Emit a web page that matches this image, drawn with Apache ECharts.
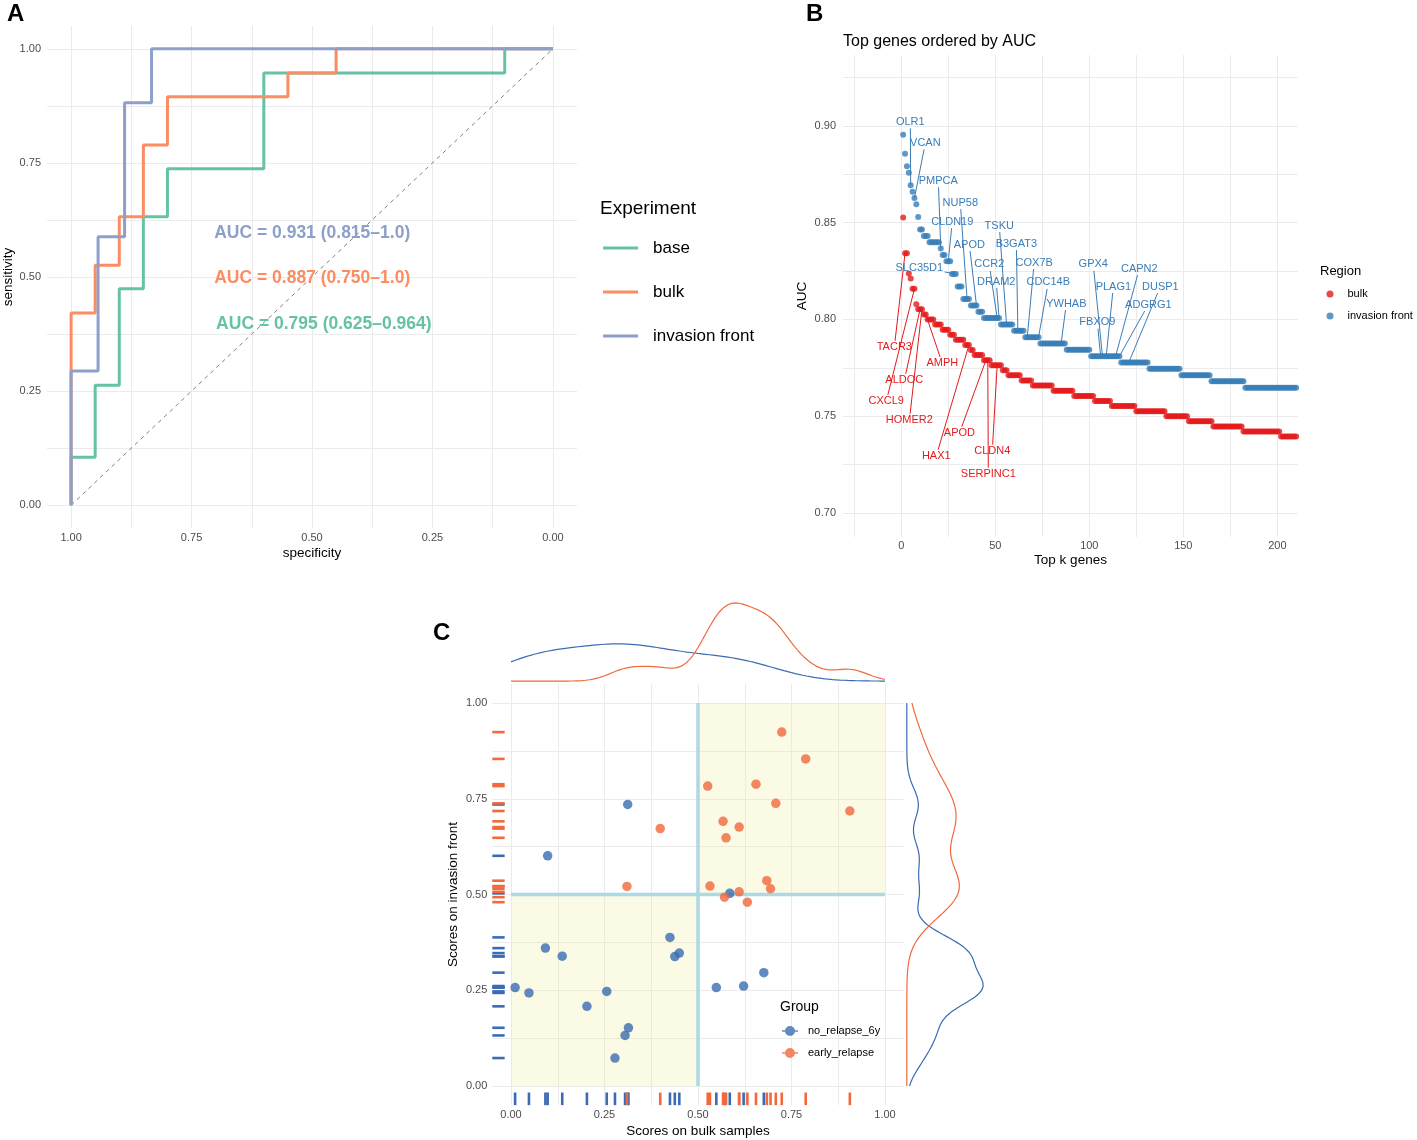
<!DOCTYPE html>
<html><head><meta charset="utf-8">
<script src="https://cdn.jsdelivr.net/npm/echarts@6/dist/echarts.min.js"></script>
<style>html,body{margin:0;padding:0;background:#fff}#chart{width:1417px;height:1140px}</style>
</head><body><div id="chart"></div>
<script>
// ---------------- Panel A : ROC curves ----------------
const experiments = ['base', 'bulk', 'invasion front'];
const rocBaseSpec = [1, 1, 0.95, 0.95, 0.9, 0.9, 0.85, 0.85, 0.8, 0.8, 0.6, 0.6, 0.1, 0.1, 0];
const rocBaseSens = [0, 0.105, 0.105, 0.263, 0.263, 0.474, 0.474, 0.632, 0.632, 0.737, 0.737, 0.947, 0.947, 1, 1];
const rocBulkSpec = [1, 1, 0.95, 0.95, 0.9, 0.9, 0.85, 0.85, 0.8, 0.8, 0.55, 0.55, 0.45, 0.45, 0];
const rocBulkSens = [0, 0.421, 0.421, 0.526, 0.526, 0.632, 0.632, 0.789, 0.789, 0.895, 0.895, 0.947, 0.947, 1, 1];
const rocInvSpec = [1, 1, 0.944, 0.944, 0.889, 0.889, 0.833, 0.833, 0];
const rocInvSens = [0, 0.294, 0.294, 0.588, 0.588, 0.882, 0.882, 1, 1];
const chanceSpec = [1, 0];
const chanceSens = [0, 1];
const aucTexts = ['AUC = 0.931 (0.815\u20131.0)', 'AUC = 0.887 (0.750\u20131.0)', 'AUC = 0.795 (0.625\u20130.964)'];
const aucTextSpec = [0.703, 0.703, 0.699];
const aucTextSens = [0.597, 0.498, 0.397];
const rocTicks = [0, 0.25, 0.5, 0.75, 1];

// ---------------- Panel B : top genes by AUC ----------------
// runs: [AUC, first rank, last rank]
const bulkAucRuns = [[0.8526,1,1],[0.8342,2,3],[0.8237,4,4],[0.8211,5,5],[0.8158,6,7],[0.8079,8,8],[0.8053,9,11],[0.8026,12,13],[0.8,14,17],[0.7974,18,21],[0.7947,22,25],[0.7921,26,28],[0.7895,29,33],[0.7868,34,36],[0.7842,37,38],[0.7816,39,43],[0.7789,44,47],[0.7763,48,53],[0.7737,54,56],[0.7711,57,63],[0.7684,64,69],[0.7658,70,80],[0.7632,81,91],[0.7605,92,102],[0.7579,103,111],[0.7553,112,124],[0.7526,125,140],[0.75,141,152],[0.7474,153,165],[0.7447,166,181],[0.7421,182,201],[0.7395,202,210]];
const frontAucRuns = [[0.8954,1,1],[0.8856,2,2],[0.8791,3,3],[0.8758,4,4],[0.8693,5,5],[0.866,6,6],[0.8627,7,7],[0.8595,8,8],[0.8529,9,9],[0.8464,10,11],[0.8431,12,14],[0.8399,15,20],[0.8366,21,21],[0.8333,22,23],[0.83,24,26],[0.8235,27,29],[0.817,30,32],[0.8105,33,36],[0.8072,37,40],[0.8039,41,43],[0.8007,44,52],[0.7974,53,59],[0.7941,60,65],[0.7908,66,73],[0.7876,74,87],[0.7843,88,100],[0.781,101,116],[0.7778,117,131],[0.7745,132,148],[0.7712,149,164],[0.768,165,182],[0.7647,183,210]];
const frontLabelGenes = ['OLR1','VCAN','PMPCA','NUP58','CLDN19','APOD','TSKU','B3GAT3','CCR2','DRAM2','COX7B','CDC14B','YWHAB','SLC35D1','GPX4','CAPN2','PLAG1','DUSP1','ADGRG1','FBXO9'];
const frontLabelRanks = [5,7,21,35,25,40,56,62,51,52,67,73,85,29,107,114,109,121,116,106];
const bulkLabelGenes = ['TACR3','ALDOC','CXCL9','HOMER2','AMPH','APOD','HAX1','CLDN4','SERPINC1'];
const bulkLabelRanks = [2,10,7,11,13,45,36,51,46];
const kTicks = [0, 50, 100, 150, 200];
const aucTicks = [0.7, 0.75, 0.8, 0.85, 0.9];
// label placement (rank, AUC) for the repelled text
const frontLabelPlace = [[4.8,0.9021],[12.8,0.8912],[19.7,0.8716],[31.4,0.8603],[27.1,0.8505],[36.2,0.8387],[52.1,0.8485],[61.2,0.8392],[46.8,0.8284],[50.5,0.8196],[70.7,0.8294],[78.2,0.8191],[87.8,0.8082],[9.6,0.8268],[102.1,0.8284],[126.6,0.8263],[112.8,0.817],[137.8,0.817],[131.4,0.8077],[104.3,0.7985]];
const bulkLabelPlace = [[-3.7,0.7856],[1.6,0.7686],[-8,0.7577],[4.3,0.7479],[21.8,0.7773],[30.9,0.7412],[18.6,0.7294],[48.4,0.732],[46.3,0.7201]];

// ---------------- Panel C : scores scatter ----------------
const groups = ['no_relapse_6y', 'early_relapse'];
const noRelapseBulk  = [0.312,0.098,0.585,0.425,0.092,0.137,0.438,0.450,0.676,0.011,0.048,0.256,0.549,0.622,0.203,0.314,0.305,0.278];
const noRelapseFront = [0.735,0.601,0.503,0.388,0.360,0.339,0.338,0.347,0.296,0.257,0.243,0.247,0.257,0.261,0.208,0.152,0.132,0.073];
const earlyBulk  = [0.724,0.788,0.526,0.655,0.708,0.906,0.399,0.567,0.610,0.575,0.310,0.532,0.684,0.694,0.610,0.571,0.632];
const earlyFront = [0.924,0.854,0.783,0.788,0.738,0.718,0.672,0.691,0.676,0.648,0.521,0.522,0.536,0.515,0.507,0.493,0.480];
const quadrants = [[0, 0, 0.5, 0.5], [0.5, 0.5, 1, 1]];
const cutoff = 0.5;
const scoreTicks = [0, 0.25, 0.5, 0.75, 1];

// ---------------- helpers ----------------
const FONT = 'Liberation Sans, Arial, Helvetica, sans-serif';
const GRID = '#EBEBEB', TICKC = '#4D4D4D';
const C_BASE = '#66C2A5', C_BULK = '#FC8D62', C_INV = '#8DA0CB';
const C_RED = '#E41A1C', C_BLUE = '#377EB8';
const C_NR = '#3A6BB3', C_ER = '#F1693C';

function zip(a, b) { return a.map((v, i) => [v, b[i]]); }
function expandRuns(runs) { const o = []; runs.forEach(([a, s, e]) => { for (let k = s; k <= e; k++) o.push([k, a]); }); return o; }
function aucAt(runs, k) { for (const [a, s, e] of runs) if (k >= s && k <= e) return a; return null; }
function minorTicks(ticks) { const o = []; for (let i = 0; i < ticks.length; i++) { o.push(ticks[i]); if (i < ticks.length - 1) o.push((ticks[i] + ticks[i + 1]) / 2); } return o; }
function quantile(s, p) { const h = (s.length - 1) * p, lo = Math.floor(h); return s[lo] + (h - lo) * ((s[lo + 1] !== undefined ? s[lo + 1] : s[lo]) - s[lo]); }
function bwNrd0(a) {
  const n = a.length, m = a.reduce((x, y) => x + y, 0) / n;
  const sd = Math.sqrt(a.reduce((x, y) => x + (y - m) * (y - m), 0) / (n - 1));
  const s = a.slice().sort((x, y) => x - y);
  const iqr = quantile(s, 0.75) - quantile(s, 0.25);
  return 0.9 * Math.min(sd, iqr / 1.34) * Math.pow(n, -0.2);
}
function kde(a) {
  const bw = bwNrd0(a), n = a.length, out = [];
  for (let i = 0; i <= 200; i++) {
    const x = i / 200; let d = 0;
    a.forEach(v => { const z = (x - v) / bw; d += Math.exp(-0.5 * z * z); });
    out.push([x, d / (n * bw * Math.sqrt(2 * Math.PI))]);
  }
  return out;
}
const mctx = document.createElement('canvas').getContext('2d');
mctx.font = '11px ' + FONT;

function valAxis(o) {
  return Object.assign({
    type: 'value', axisLine: { show: false },
    axisTick: { show: false, customValues: o.grid },
    axisLabel: { customValues: o.labels, color: TICKC, fontSize: 11, margin: o.margin, formatter: o.fmt },
    splitLine: { show: true, lineStyle: { color: GRID, width: 1 } },
    nameLocation: 'middle', nameTextStyle: { color: '#000', fontSize: 13.5 }
  }, o.extra);
}
function hiddenAxis(extra) {
  return Object.assign({ type: 'value', show: false, axisLine: { show: false }, axisTick: { show: false }, axisLabel: { show: false }, splitLine: { show: false } }, extra);
}

function labelSeries(name, runs, genes, ranks, place, color) {
  return {
    type: 'custom', name: name, xAxisIndex: 1, yAxisIndex: 1, z: 5, clip: false, silent: true,
    data: genes.map((g, i) => [ranks[i], aucAt(runs, ranks[i]), place[i][0], place[i][1], i]),
    renderItem: function (params, api) {
      const p = api.coord([api.value(0), api.value(1)]);
      const L = api.coord([api.value(2), api.value(3)]);
      const txt = genes[api.value(4)];
      const hw = mctx.measureText(txt).width / 2 + 1.5, hh = 6.5;
      const dx = p[0] - L[0], dy = p[1] - L[1];
      const t = Math.min(dx === 0 ? Infinity : hw / Math.abs(dx), dy === 0 ? Infinity : hh / Math.abs(dy));
      const children = [];
      if (t < 1) {
        children.push({ type: 'line', shape: { x1: L[0] + dx * t, y1: L[1] + dy * t, x2: p[0], y2: p[1] }, style: { stroke: color, lineWidth: 1 } });
      }
      children.push({ type: 'text', x: L[0], y: L[1], style: { text: txt, fill: color, fontSize: 11, fontFamily: FONT, align: 'center', verticalAlign: 'middle' } });
      return { type: 'group', children: children };
    }
  };
}
function rugSeries(name, xs, ys, color) {
  return {
    type: 'custom', name: name, xAxisIndex: 2, yAxisIndex: 2, z: 2, silent: true, clip: false,
    data: zip(xs, ys),
    renderItem: function (params, api) {
      const x = api.value(0), y = api.value(1);
      const b1 = api.coord([x, -0.05]), b2 = api.coord([x, -0.017]);
      const l1 = api.coord([-0.05, y]), l2 = api.coord([-0.017, y]);
      return { type: 'group', children: [
        { type: 'line', shape: { x1: b1[0], y1: b1[1], x2: b2[0], y2: b2[1] }, style: { stroke: color, lineWidth: 2.6 } },
        { type: 'line', shape: { x1: l1[0], y1: l1[1], x2: l2[0], y2: l2[1] }, style: { stroke: color, lineWidth: 2.6 } }
      ] };
    }
  };
}

const nrBulkDens = kde(noRelapseBulk), erBulkDens = kde(earlyBulk);
const nrFrontDens = kde(noRelapseFront).map(([g, d]) => [d, g]);
const erFrontDens = kde(earlyFront).map(([g, d]) => [d, g]);

const option = {
  backgroundColor: '#fff',
  animation: false,
  textStyle: { fontFamily: FONT },
  title: [
    { text: 'A', left: 7, top: 2, padding: 0, textStyle: { fontSize: 24, fontWeight: 'bold', color: '#000' } },
    { text: 'B', left: 806, top: 2, padding: 0, textStyle: { fontSize: 24, fontWeight: 'bold', color: '#000' } },
    { text: 'C', left: 433, top: 621, padding: 0, textStyle: { fontSize: 24, fontWeight: 'bold', color: '#000' } },
    { text: 'Top genes ordered by AUC', left: 843, top: 34, padding: 0, textStyle: { fontSize: 16, fontWeight: 'normal', color: '#000' } },
    { text: 'Experiment', left: 600, top: 199, padding: 0, textStyle: { fontSize: 19, fontWeight: 'normal', color: '#000' } },
    { text: 'Region', left: 1320, top: 265, padding: 0, textStyle: { fontSize: 13, fontWeight: 'normal', color: '#000' } },
    { text: 'Group', left: 780, top: 1000, padding: 0, textStyle: { fontSize: 14, fontWeight: 'normal', color: '#000' } }
  ],
  legend: [
    { orient: 'vertical', left: 603, top: 238, padding: 0, itemWidth: 35, itemHeight: 3, itemGap: 24, icon: 'rect', selectedMode: false,
      data: experiments, textStyle: { fontSize: 17, color: '#000', lineHeight: 20, padding: [0, 0, 0, 10] } },
    { orient: 'vertical', left: 1326.5, top: 287, padding: 0, itemWidth: 7, itemHeight: 7, itemGap: 8, icon: 'circle', selectedMode: false,
      data: ['bulk ', 'invasion front '], textStyle: { fontSize: 11, color: '#000', lineHeight: 14, padding: [0, 0, 0, 9] } },
    { orient: 'vertical', left: 782, top: 1024, padding: 0, itemWidth: 16, itemHeight: 10, itemGap: 8, selectedMode: false,
      icon: 'path://M0,4.3H16V5.7H0Z M13,5A5,5,0,1,1,3,5A5,5,0,1,1,13,5Z',
      data: groups, textStyle: { fontSize: 11, color: '#000', lineHeight: 14, padding: [0, 0, 0, 5] } }
  ],
  grid: [
    { left: 47, top: 26, width: 530, height: 502 },
    { left: 843, top: 55, width: 455, height: 482 },
    { left: 492.3, top: 683.85, width: 411.4, height: 421.3 },
    { left: 492.3, top: 599, width: 411.4, height: 86 },
    { left: 903, top: 683.85, width: 84, height: 421.3 }
  ],
  xAxis: [
    valAxis({ grid: minorTicks(rocTicks), labels: rocTicks, margin: 4.5, fmt: v => v.toFixed(2),
      extra: { gridIndex: 0, min: -0.05, max: 1.05, inverse: true, name: 'specificity', nameGap: 18 } }),
    valAxis({ grid: [-25, 0, 25, 50, 75, 100, 125, 150, 175, 200], labels: kTicks, margin: 3, fmt: v => String(Math.round(v)),
      extra: { gridIndex: 1, min: -31, max: 211, name: 'Top k genes', nameGap: 16 } }),
    valAxis({ grid: minorTicks(scoreTicks), labels: scoreTicks, margin: 4, fmt: v => v.toFixed(2),
      extra: { gridIndex: 2, min: -0.05, max: 1.05, name: 'Scores on bulk samples', nameGap: 19 } }),
    hiddenAxis({ gridIndex: 3, min: -0.05, max: 1.05 }),
    hiddenAxis({ gridIndex: 4, min: v => -0.05 * v.max, max: v => 1.05 * v.max })
  ],
  yAxis: [
    valAxis({ grid: minorTicks(rocTicks), labels: rocTicks, margin: 6, fmt: v => v.toFixed(2),
      extra: { gridIndex: 0, min: -0.05, max: 1.05, name: 'sensitivity', nameGap: 32 } }),
    valAxis({ grid: [0.7, 0.725, 0.75, 0.775, 0.8, 0.825, 0.85, 0.875, 0.9, 0.925], labels: aucTicks, margin: 7, fmt: v => v.toFixed(2),
      extra: { gridIndex: 1, min: 0.6876, max: 0.9366, name: 'AUC', nameGap: 34 } }),
    valAxis({ grid: minorTicks(scoreTicks), labels: scoreTicks, margin: 5, fmt: v => v.toFixed(2),
      extra: { gridIndex: 2, min: -0.05, max: 1.05, name: 'Scores on invasion front', nameGap: 32 } }),
    hiddenAxis({ gridIndex: 3, min: v => -0.05 * v.max, max: v => 1.05 * v.max }),
    hiddenAxis({ gridIndex: 4, min: -0.05, max: 1.05 })
  ],
  series: [
    // ---- Panel A
    { type: 'line', name: 'chance', xAxisIndex: 0, yAxisIndex: 0, data: zip(chanceSpec, chanceSens), symbol: 'none', silent: true, z: 1,
      lineStyle: { color: '#7F7F7F', width: 1, type: [4, 4] } },
    { type: 'line', name: experiments[0], xAxisIndex: 0, yAxisIndex: 0, data: zip(rocBaseSpec, rocBaseSens), symbol: 'none', z: 2,
      color: C_BASE, lineStyle: { color: C_BASE, width: 3 } },
    { type: 'line', name: experiments[1], xAxisIndex: 0, yAxisIndex: 0, data: zip(rocBulkSpec, rocBulkSens), symbol: 'none', z: 3,
      color: C_BULK, lineStyle: { color: C_BULK, width: 3 } },
    { type: 'line', name: experiments[2], xAxisIndex: 0, yAxisIndex: 0, data: zip(rocInvSpec, rocInvSens), symbol: 'none', z: 4,
      color: C_INV, lineStyle: { color: C_INV, width: 3 } },
    { type: 'custom', name: 'aucText', xAxisIndex: 0, yAxisIndex: 0, z: 6, silent: true,
      data: aucTexts.map((t, i) => [aucTextSpec[i], aucTextSens[i], i]),
      renderItem: function (params, api) {
        const p = api.coord([api.value(0), api.value(1)]);
        const cols = [C_INV, C_BULK, C_BASE];
        const i = api.value(2);
        return { type: 'text', x: p[0], y: p[1], style: { text: aucTexts[i], fill: cols[i], fontSize: 17.5, fontWeight: 'bold', fontFamily: FONT, align: 'left', verticalAlign: 'middle' } };
      } },
    // ---- Panel B
    { type: 'scatter', name: 'bulk ', xAxisIndex: 1, yAxisIndex: 1, data: expandRuns(bulkAucRuns), symbolSize: 6, z: 3,
      itemStyle: { color: C_RED }, color: C_RED },
    { type: 'scatter', name: 'invasion front ', xAxisIndex: 1, yAxisIndex: 1, data: expandRuns(frontAucRuns), symbolSize: 6, z: 3,
      itemStyle: { color: C_BLUE }, color: C_BLUE },
    labelSeries('bulkLabels', bulkAucRuns, bulkLabelGenes, bulkLabelRanks, bulkLabelPlace, C_RED),
    labelSeries('frontLabels', frontAucRuns, frontLabelGenes, frontLabelRanks, frontLabelPlace, '#3A7DB8'),
    // ---- Panel C
    { type: 'custom', name: 'quadrants', xAxisIndex: 2, yAxisIndex: 2, z: 1, silent: true, data: quadrants,
      renderItem: function (params, api) {
        const a = api.coord([api.value(0), api.value(1)]), b = api.coord([api.value(2), api.value(3)]);
        return { type: 'rect', shape: { x: a[0], y: b[1], width: b[0] - a[0], height: a[1] - b[1] }, style: { fill: 'rgba(240,240,160,0.28)' } };
      } },
    { type: 'custom', name: 'cutoffs', xAxisIndex: 2, yAxisIndex: 2, z: 2, silent: true, data: [[cutoff]],
      renderItem: function (params, api) {
        const c = api.value(0);
        const v1 = api.coord([c, 0]), v2 = api.coord([c, 1]), h1 = api.coord([0, c]), h2 = api.coord([1, c]);
        return { type: 'group', children: [
          { type: 'line', shape: { x1: v1[0], y1: v1[1], x2: v2[0], y2: v2[1] }, style: { stroke: '#ADD8E6', lineWidth: 3.5 } },
          { type: 'line', shape: { x1: h1[0], y1: h1[1], x2: h2[0], y2: h2[1] }, style: { stroke: '#ADD8E6', lineWidth: 3.5 } }
        ] };
      } },
    rugSeries('rugNR', noRelapseBulk, noRelapseFront, C_NR),
    rugSeries('rugER', earlyBulk, earlyFront, C_ER),
    { type: 'scatter', name: groups[0], xAxisIndex: 2, yAxisIndex: 2, data: zip(noRelapseBulk, noRelapseFront), symbolSize: 9.5, z: 4,
      itemStyle: { color: C_NR }, color: C_NR },
    { type: 'scatter', name: groups[1], xAxisIndex: 2, yAxisIndex: 2, data: zip(earlyBulk, earlyFront), symbolSize: 9.5, z: 4,
      itemStyle: { color: C_ER }, color: C_ER },
    { type: 'line', name: 'densTopNR', xAxisIndex: 3, yAxisIndex: 3, data: nrBulkDens, symbol: 'none', silent: true, smooth: false,
      lineStyle: { color: C_NR, width: 1.2 } },
    { type: 'line', name: 'densTopER', xAxisIndex: 3, yAxisIndex: 3, data: erBulkDens, symbol: 'none', silent: true,
      lineStyle: { color: C_ER, width: 1.2 } },
    { type: 'line', name: 'densRightNR', xAxisIndex: 4, yAxisIndex: 4, data: nrFrontDens, symbol: 'none', silent: true,
      lineStyle: { color: C_NR, width: 1.2 } },
    { type: 'line', name: 'densRightER', xAxisIndex: 4, yAxisIndex: 4, data: erFrontDens, symbol: 'none', silent: true,
      lineStyle: { color: C_ER, width: 1.2 } }
  ]
};
const chart = echarts.init(document.getElementById('chart'));
chart.setOption(option);
</script></body></html>
